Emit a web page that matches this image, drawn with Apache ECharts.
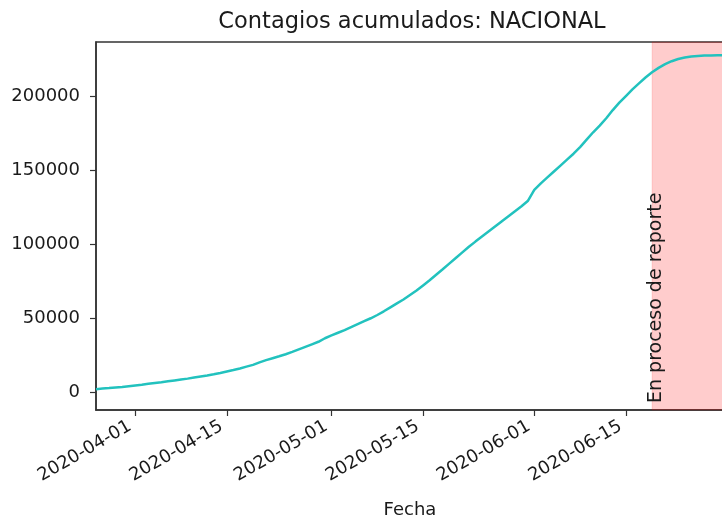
<!DOCTYPE html>
<html>
<head>
<meta charset="utf-8">
<script src="https://cdn.jsdelivr.net/npm/echarts@6/dist/echarts.min.js"></script>
<style>
  html, body { margin: 0; padding: 0; background: #fff; }
  #chart { width: 722px; height: 520px; }
</style>
</head>
<body>
<div id="chart"></div>
<script>
// daily cumulative cases, 2020-03-26 .. 2020-06-30
const startDate = [2020, 2, 26];
const casos = [
  2400, 2750, 3100, 3500, 3900, 4400,
  4900, 5400, 6000, 6600, 7100, 7700, 8300, 8900, 9500, 10200,
  10900, 11600, 12400, 13300, 14300, 15300, 16400, 17600, 18800, 20500,
  22000, 23300, 24600, 26000, 27600, 29300, 31000, 32700, 34400, 36800,
  38700, 40500, 42300, 44300, 46300, 48300, 50300, 52500, 55000, 57700,
  60400, 63000, 66000, 69000, 72500, 76000, 79700, 83400, 87200, 91000,
  94800, 98600, 102100, 105500, 108900, 112300, 115700, 119100, 122500, 125800,
  129500,
  137000, 141500, 145500, 149500, 153500, 157500, 161500, 166000, 171000, 176000,
  180500, 185500, 191000, 196000, 200500, 205000, 209000, 213000, 216500, 219500,
  222000, 224000, 225500, 226500, 227200, 227600, 227800, 227900, 228000, 228000
];
const xTicks = ['2020-04-01', '2020-04-15', '2020-05-01', '2020-05-15', '2020-06-01', '2020-06-15'];
const yTicks = [0, 50000, 100000, 150000, 200000];
const xRange = ['2020-03-26', '2020-06-30'];
const yRange = [-11700, 237000];
const reporte = ['2020-06-19', '2020-06-30'];

const FONT = 'DejaVu Sans';
const INK = '#1a1a1a';
const SPINE = '#333';

function toTime(s) {
  const p = s.split('-').map(Number);
  return new Date(p[0], p[1] - 1, p[2]).getTime();
}

function fmtDate(v) {
  const d = new Date(v);
  const mm = String(d.getMonth() + 1).padStart(2, '0');
  const dd = String(d.getDate()).padStart(2, '0');
  return d.getFullYear() + '-' + mm + '-' + dd;
}

function buildSeries() {
  const out = [];
  for (let i = 0; i < casos.length; i++) {
    const t = new Date(startDate[0], startDate[1], startDate[2] + i).getTime();
    out.push([t, casos[i]]);
  }
  return out;
}

const chart = echarts.init(document.getElementById('chart'), null, {renderer: 'canvas'});

chart.setOption({
  animation: false,
  backgroundColor: '#fff',
  title: {
    text: 'Contagios acumulados: NACIONAL',
    left: 407,
    top: 6,
    textAlign: 'center',
    textStyle: {fontFamily: FONT, fontSize: 22.5, fontWeight: 'normal', color: INK}
  },
  grid: {
    left: 96, top: 42, right: -2, bottom: 110,
    outerBoundsMode: 'none',
    show: true, borderColor: SPINE, borderWidth: 1.5, backgroundColor: 'transparent'
  },
  xAxis: {
    type: 'value',
    min: toTime(xRange[0]),
    max: toTime(xRange[1]),
    name: 'Fecha',
    nameLocation: 'middle',
    nameGap: 91,
    nameTextStyle: {fontFamily: FONT, fontSize: 18, color: INK},
    axisLine: {show: true, onZero: false, lineStyle: {color: SPINE, width: 1.5}},
    axisTick: {show: true, length: 6, lineStyle: {color: SPINE, width: 1.2},
      customValues: xTicks.map(toTime)},
    axisLabel: {
      rotate: 30,
      margin: 12,
      padding: [0, 6, 0, 0],
      fontFamily: FONT,
      fontSize: 18,
      color: INK,
      customValues: xTicks.map(toTime),
      formatter: fmtDate
    },
    splitLine: {show: false}
  },
  yAxis: {
    type: 'value',
    min: yRange[0],
    max: yRange[1],
    axisLine: {show: true, onZero: false, lineStyle: {color: SPINE, width: 1.5}},
    axisTick: {show: true, length: 6, lineStyle: {color: SPINE, width: 1.2},
      customValues: yTicks},
    axisLabel: {
      margin: 16,
      fontFamily: FONT,
      fontSize: 18,
      color: INK,
      customValues: yTicks,
      formatter: v => String(v)
    },
    splitLine: {show: false}
  },
  series: [
    {
      name: 'casos',
      type: 'line',
      data: buildSeries(),
      showSymbol: false,
      lineStyle: {color: '#22c2be', width: 2.5},
      itemStyle: {color: '#22c2be'},
      markArea: {
        silent: true,
        itemStyle: {color: 'rgba(255,0,0,0.2)', borderColor: 'rgba(255,0,0,0.12)', borderWidth: 1},
        data: [[{xAxis: toTime(reporte[0])}, {xAxis: toTime(reporte[1])}]]
      },
      z: 3
    }
  ]
});

// vertical note at the start of the shaded span
const xNote = chart.convertToPixel({xAxisIndex: 0}, toTime(reporte[0]));
const yNote = chart.convertToPixel({yAxisIndex: 0}, yRange[0]);
chart.setOption({
  graphic: [{
    type: 'text',
    x: xNote + 4,
    y: yNote - 7,
    rotation: Math.PI / 2,
    z: 10,
    style: {
      text: 'En proceso de reporte',
      fontFamily: FONT,
      fontSize: 19,
      fill: INK,
      textAlign: 'left',
      textVerticalAlign: 'middle'
    }
  }]
});
</script>
</body>
</html>
